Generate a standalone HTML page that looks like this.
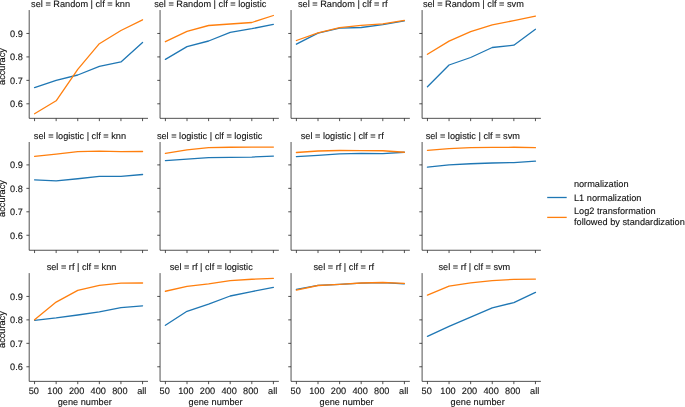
<!DOCTYPE html>
<html><head><meta charset="utf-8"><style>
html,body{margin:0;padding:0;background:#fff;}
svg{display:block;will-change:transform;}
text{font-family:"Liberation Sans",sans-serif;font-size:9.2px;fill:#111;text-rendering:geometricPrecision;stroke:#111;stroke-width:0.12px;}
.sp{fill:none;stroke:#262626;stroke-width:0.8;}
.tk{fill:none;stroke:#262626;stroke-width:0.8;}
polyline{fill:none;stroke-width:1.3;stroke-linejoin:round;stroke-linecap:round;}
.lg{fill:none;stroke-width:1.3;}
</style></head><body>
<svg width="685" height="407" viewBox="0 0 685 407">
<path class="sp" d="M29.20 10.05V118.33H148.00"/>
<path class="tk" d="M34.55 118.33v2.8M56.15 118.33v2.8M77.75 118.33v2.8M99.35 118.33v2.8M120.95 118.33v2.8M142.55 118.33v2.8M29.20 33.46h-2.8M29.20 56.91h-2.8M29.20 80.36h-2.8M29.20 103.81h-2.8"/>
<text x="31.10" y="6.75">sel = Random | clf = knn</text>
<polyline points="34.55,87.60 56.15,80.40 77.75,75.00 99.35,66.40 120.95,61.90 142.55,42.40" stroke="#1f77b4"/>
<polyline points="34.55,113.70 56.15,100.80 77.75,69.40 99.35,43.70 120.95,30.50 142.55,19.80" stroke="#ff7f0e"/>
<text x="10.07" y="36.76">0.9</text>
<text x="10.07" y="60.21">0.8</text>
<text x="10.07" y="83.66">0.7</text>
<text x="10.07" y="107.11">0.6</text>
<text transform="translate(5.0,84.94) rotate(-90)">accuracy</text>
<path class="sp" d="M160.05 10.05V118.33H278.85"/>
<path class="tk" d="M165.40 118.33v2.8M187.00 118.33v2.8M208.60 118.33v2.8M230.20 118.33v2.8M251.80 118.33v2.8M273.40 118.33v2.8M160.05 33.46h-2.8M160.05 56.91h-2.8M160.05 80.36h-2.8M160.05 103.81h-2.8"/>
<text x="154.14" y="6.75">sel = Random | clf = logistic</text>
<polyline points="165.40,59.40 187.00,46.60 208.60,41.00 230.20,32.40 251.80,28.70 273.40,24.30" stroke="#1f77b4"/>
<polyline points="165.40,41.70 187.00,31.40 208.60,25.50 230.20,24.00 251.80,22.50 273.40,15.50" stroke="#ff7f0e"/>
<path class="sp" d="M291.05 10.05V118.33H409.85"/>
<path class="tk" d="M296.40 118.33v2.8M318.00 118.33v2.8M339.60 118.33v2.8M361.20 118.33v2.8M382.80 118.33v2.8M404.40 118.33v2.8M291.05 33.46h-2.8M291.05 56.91h-2.8M291.05 80.36h-2.8M291.05 103.81h-2.8"/>
<text x="297.93" y="6.75">sel = Random | clf = rf</text>
<polyline points="296.40,44.20 318.00,33.10 339.60,28.20 361.20,27.50 382.80,24.60 404.40,20.80" stroke="#1f77b4"/>
<polyline points="296.40,40.50 318.00,32.80 339.60,27.70 361.20,25.40 382.80,23.80 404.40,20.30" stroke="#ff7f0e"/>
<path class="sp" d="M422.10 10.05V118.33H540.90"/>
<path class="tk" d="M427.45 118.33v2.8M449.05 118.33v2.8M470.65 118.33v2.8M492.25 118.33v2.8M513.85 118.33v2.8M535.45 118.33v2.8M422.10 33.46h-2.8M422.10 56.91h-2.8M422.10 80.36h-2.8M422.10 103.81h-2.8"/>
<text x="422.89" y="6.75">sel = Random | clf = svm</text>
<polyline points="427.45,86.80 449.05,65.00 470.65,57.50 492.25,47.50 513.85,45.20 535.45,29.30" stroke="#1f77b4"/>
<polyline points="427.45,54.30 449.05,41.10 470.65,31.60 492.25,24.80 513.85,20.60 535.45,16.10" stroke="#ff7f0e"/>
<path class="sp" d="M29.20 142.00V250.25H148.00"/>
<path class="tk" d="M34.55 250.25v2.8M56.15 250.25v2.8M77.75 250.25v2.8M99.35 250.25v2.8M120.95 250.25v2.8M142.55 250.25v2.8M29.20 164.90h-2.8M29.20 188.35h-2.8M29.20 211.80h-2.8M29.20 235.25h-2.8"/>
<text x="33.84" y="138.70">sel = logistic | clf = knn</text>
<polyline points="34.55,179.90 56.15,180.90 77.75,178.75 99.35,176.45 120.95,176.45 142.55,174.50" stroke="#1f77b4"/>
<polyline points="34.55,156.30 56.15,154.05 77.75,151.70 99.35,151.10 120.95,151.60 142.55,151.50" stroke="#ff7f0e"/>
<text x="10.07" y="168.20">0.9</text>
<text x="10.07" y="191.65">0.8</text>
<text x="10.07" y="215.10">0.7</text>
<text x="10.07" y="238.55">0.6</text>
<text transform="translate(5.0,216.88) rotate(-90)">accuracy</text>
<path class="sp" d="M160.05 142.00V250.25H278.85"/>
<path class="tk" d="M165.40 250.25v2.8M187.00 250.25v2.8M208.60 250.25v2.8M230.20 250.25v2.8M251.80 250.25v2.8M273.40 250.25v2.8M160.05 164.90h-2.8M160.05 188.35h-2.8M160.05 211.80h-2.8M160.05 235.25h-2.8"/>
<text x="156.89" y="138.70">sel = logistic | clf = logistic</text>
<polyline points="165.40,160.55 187.00,159.05 208.60,157.60 230.20,157.35 251.80,157.05 273.40,156.05" stroke="#1f77b4"/>
<polyline points="165.40,153.40 187.00,149.90 208.60,147.70 230.20,147.25 251.80,147.10 273.40,147.10" stroke="#ff7f0e"/>
<path class="sp" d="M291.05 142.00V250.25H409.85"/>
<path class="tk" d="M296.40 250.25v2.8M318.00 250.25v2.8M339.60 250.25v2.8M361.20 250.25v2.8M382.80 250.25v2.8M404.40 250.25v2.8M291.05 164.90h-2.8M291.05 188.35h-2.8M291.05 211.80h-2.8M291.05 235.25h-2.8"/>
<text x="300.68" y="138.70">sel = logistic | clf = rf</text>
<polyline points="296.40,156.60 318.00,155.30 339.60,153.80 361.20,153.40 382.80,153.55 404.40,152.25" stroke="#1f77b4"/>
<polyline points="296.40,152.50 318.00,151.00 339.60,150.50 361.20,150.60 382.80,150.75 404.40,152.25" stroke="#ff7f0e"/>
<path class="sp" d="M422.10 142.00V250.25H540.90"/>
<path class="tk" d="M427.45 250.25v2.8M449.05 250.25v2.8M470.65 250.25v2.8M492.25 250.25v2.8M513.85 250.25v2.8M535.45 250.25v2.8M422.10 164.90h-2.8M422.10 188.35h-2.8M422.10 211.80h-2.8M422.10 235.25h-2.8"/>
<text x="425.64" y="138.70">sel = logistic | clf = svm</text>
<polyline points="427.45,167.10 449.05,164.95 470.65,163.75 492.25,163.00 513.85,162.55 535.45,161.10" stroke="#1f77b4"/>
<polyline points="427.45,150.30 449.05,148.55 470.65,147.70 492.25,147.45 513.85,147.25 535.45,147.70" stroke="#ff7f0e"/>
<path class="sp" d="M29.20 273.10V381.36H148.00"/>
<path class="tk" d="M34.55 381.36v2.8M56.15 381.36v2.8M77.75 381.36v2.8M99.35 381.36v2.8M120.95 381.36v2.8M142.55 381.36v2.8M29.20 296.43h-2.8M29.20 319.88h-2.8M29.20 343.33h-2.8M29.20 366.78h-2.8"/>
<text x="46.63" y="269.80">sel = rf | clf = knn</text>
<polyline points="34.55,320.30 56.15,317.90 77.75,315.00 99.35,311.80 120.95,307.60 142.55,305.90" stroke="#1f77b4"/>
<polyline points="34.55,319.80 56.15,302.10 77.75,290.40 99.35,285.30 120.95,283.10 142.55,283.00" stroke="#ff7f0e"/>
<text x="10.07" y="299.73">0.9</text>
<text x="10.07" y="323.18">0.8</text>
<text x="10.07" y="346.63">0.7</text>
<text x="10.07" y="370.08">0.6</text>
<text transform="translate(5.0,347.98) rotate(-90)">accuracy</text>
<text x="28.70" y="393.56">50</text>
<text x="47.37" y="393.56">100</text>
<text x="68.97" y="393.56">200</text>
<text x="90.57" y="393.56">400</text>
<text x="112.17" y="393.56">800</text>
<text x="137.18" y="393.56">all</text>
<text x="57.69" y="404.60">gene number</text>
<path class="sp" d="M160.05 273.10V381.36H278.85"/>
<path class="tk" d="M165.40 381.36v2.8M187.00 381.36v2.8M208.60 381.36v2.8M230.20 381.36v2.8M251.80 381.36v2.8M273.40 381.36v2.8M160.05 296.43h-2.8M160.05 319.88h-2.8M160.05 343.33h-2.8M160.05 366.78h-2.8"/>
<text x="169.68" y="269.80">sel = rf | clf = logistic</text>
<polyline points="165.40,325.30 187.00,311.30 208.60,304.20 230.20,296.00 251.80,291.55 273.40,287.40" stroke="#1f77b4"/>
<polyline points="165.40,291.25 187.00,286.45 208.60,283.90 230.20,280.70 251.80,279.25 273.40,278.30" stroke="#ff7f0e"/>
<text x="159.55" y="393.56">50</text>
<text x="178.22" y="393.56">100</text>
<text x="199.82" y="393.56">200</text>
<text x="221.42" y="393.56">400</text>
<text x="243.02" y="393.56">800</text>
<text x="268.03" y="393.56">all</text>
<text x="188.54" y="404.60">gene number</text>
<path class="sp" d="M291.05 273.10V381.36H409.85"/>
<path class="tk" d="M296.40 381.36v2.8M318.00 381.36v2.8M339.60 381.36v2.8M361.20 381.36v2.8M382.80 381.36v2.8M404.40 381.36v2.8M291.05 296.43h-2.8M291.05 319.88h-2.8M291.05 343.33h-2.8M291.05 366.78h-2.8"/>
<text x="313.47" y="269.80">sel = rf | clf = rf</text>
<polyline points="296.40,289.30 318.00,285.30 339.60,284.30 361.20,283.10 382.80,282.60 404.40,283.80" stroke="#1f77b4"/>
<polyline points="296.40,290.20 318.00,285.50 339.60,284.30 361.20,283.00 382.80,282.50 404.40,283.45" stroke="#ff7f0e"/>
<text x="290.55" y="393.56">50</text>
<text x="309.22" y="393.56">100</text>
<text x="330.82" y="393.56">200</text>
<text x="352.42" y="393.56">400</text>
<text x="374.02" y="393.56">800</text>
<text x="399.03" y="393.56">all</text>
<text x="319.54" y="404.60">gene number</text>
<path class="sp" d="M422.10 273.10V381.36H540.90"/>
<path class="tk" d="M427.45 381.36v2.8M449.05 381.36v2.8M470.65 381.36v2.8M492.25 381.36v2.8M513.85 381.36v2.8M535.45 381.36v2.8M422.10 296.43h-2.8M422.10 319.88h-2.8M422.10 343.33h-2.8M422.10 366.78h-2.8"/>
<text x="438.43" y="269.80">sel = rf | clf = svm</text>
<polyline points="427.45,336.30 449.05,326.35 470.65,317.10 492.25,307.80 513.85,302.55 535.45,292.35" stroke="#1f77b4"/>
<polyline points="427.45,295.20 449.05,286.15 470.65,282.90 492.25,280.60 513.85,279.35 535.45,279.05" stroke="#ff7f0e"/>
<text x="421.60" y="393.56">50</text>
<text x="440.27" y="393.56">100</text>
<text x="461.87" y="393.56">200</text>
<text x="483.47" y="393.56">400</text>
<text x="505.07" y="393.56">800</text>
<text x="530.08" y="393.56">all</text>
<text x="450.59" y="404.60">gene number</text>
<path d="M547.2 197.5H566.7" stroke="#1f77b4" class="lg"/>
<path d="M547.2 217.4H566.7" stroke="#ff7f0e" class="lg"/>
<text x="573.90" y="187.00">normalization</text>
<text x="574.00" y="200.70">L1 normalization</text>
<text x="574.00" y="214.30">Log2 transformation</text>
<text x="574.00" y="224.70">followed by standardization</text>
</svg>
</body></html>
